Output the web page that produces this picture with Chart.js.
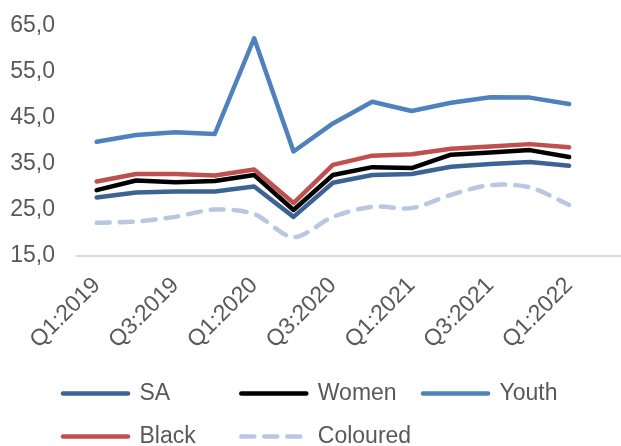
<!DOCTYPE html>
<html><head><meta charset="utf-8">
<script src="https://cdn.jsdelivr.net/npm/chart.js@4"></script>
<style>html,body{margin:0;padding:0;overflow:hidden;background:#fff}#wrap{width:636px;height:458px}</style>
</head><body><div id="wrap"><canvas id="c" width="636" height="458"></canvas></div>
<script>
const categories = ['Q1:2019','Q2:2019','Q3:2019','Q4:2019','Q1:2020','Q2:2020','Q3:2020','Q4:2020','Q1:2021','Q2:2021','Q3:2021','Q4:2021','Q1:2022','Q2:2022'];
const saValues       = [27.7, 28.8, 29.0, 29.0, 30.1, 23.5, 30.9, 32.6, 32.8, 34.4, 35.0, 35.4, 34.6, null];
const womenValues    = [29.3, 31.4, 31.0, 31.3, 32.6, 25.0, 32.6, 34.3, 34.1, 37.0, 37.5, 38.0, 36.5, null];
const youthValues    = [39.8, 41.3, 41.9, 41.5, 62.3, 37.7, 43.8, 48.5, 46.5, 48.3, 49.5, 49.4, 48.0, null];
const blackValues    = [31.2, 32.8, 32.8, 32.5, 33.8, 26.5, 34.8, 36.8, 37.1, 38.3, 38.8, 39.3, 38.6, null];
const colouredValues = [22.2, 22.5, 23.5, 25.1, 24.1, 19.1, 23.5, 25.7, 25.4, 28.3, 30.4, 29.9, 26.1, null];
const seriesNames = ['SA','Women','Youth','Black','Coloured'];
const yMin = 15, yMax = 65, yStep = 10;

const FONT = 'Liberation Sans, Arial, sans-serif';
const TXT = '#595959';
const LINE_W = 4.5;
const legendPad = {SA: 8, Women: 1, Youth: 0, Black: 4, Coloured: 0};

function ds(i, data, color, extra) {
  return Object.assign({
    label: seriesNames[i], data: data, borderColor: color, backgroundColor: color,
    borderWidth: LINE_W, pointRadius: 0, pointHoverRadius: 0, tension: 0,
    borderCapStyle: 'round', borderJoinStyle: 'round', fill: false, order: 10 - i
  }, extra || {});
}

const yLabelArea = {
  id: 'yLabelArea',
  afterLayout: function(chart) { chart.scales.y.left = 0; }
};

new Chart(document.getElementById('c'), {
  type: 'line',
  data: {
    labels: categories,
    datasets: [
      ds(0, saValues, '#3D6394'),
      ds(1, womenValues, '#000000'),
      ds(2, youthValues, '#4F81BD'),
      ds(3, blackValues, '#C0504D'),
      ds(4, colouredValues, '#B9C7E1', {borderDash: [13, 10], tension: 0.3})
    ]
  },
  plugins: [yLabelArea],
  options: {
    responsive: false,
    animation: false,
    layout: {padding: {left: 43, right: 0, top: 0, bottom: 0}},
    scales: {
      x: {
        offset: true,
        grid: {display: false},
        border: {display: true, color: '#D9D9D9', width: 2},
        ticks: {
          autoSkip: false, minRotation: 45, maxRotation: 45, padding: 8,
          color: TXT, font: {family: FONT, size: 23},
          callback: function(v, i) { return i % 2 === 0 ? categories[i] : ''; }
        },
        afterFit: function(axis) { axis.height = 106; }
      },
      y: {
        min: yMin, max: yMax,
        grid: {display: false, tickLength: 10},
        border: {display: false},
        ticks: {
          stepSize: yStep, padding: 12, color: TXT, font: {family: FONT, size: 23},
          callback: function(v) { return v.toFixed(1).replace('.', ','); }
        },
        afterFit: function(axis) { axis.width = 34; }
      }
    },
    plugins: {
      tooltip: {enabled: false},
      legend: {
        position: 'bottom',
        align: 'start',
        labels: {
          usePointStyle: true, pointStyle: 'line', pointStyleWidth: 65,
          padding: 20, color: TXT, font: {family: FONT, size: 23},
          sort: function(a, b) { return a.datasetIndex - b.datasetIndex; },
          generateLabels: function(chart) {
            const items = Chart.defaults.plugins.legend.labels.generateLabels(chart);
            items.forEach(function(it) {
              const d = chart.data.datasets[it.datasetIndex];
              it.lineDash = d.borderDash || [];
              it.lineCap = 'round';
              it.lineWidth = LINE_W;
              it.strokeStyle = d.borderColor;
              it.text = it.text + ' '.repeat(legendPad[it.text] || 0);
            });
            return items;
          }
        }
      }
    }
  }
});
</script>
</body></html>
